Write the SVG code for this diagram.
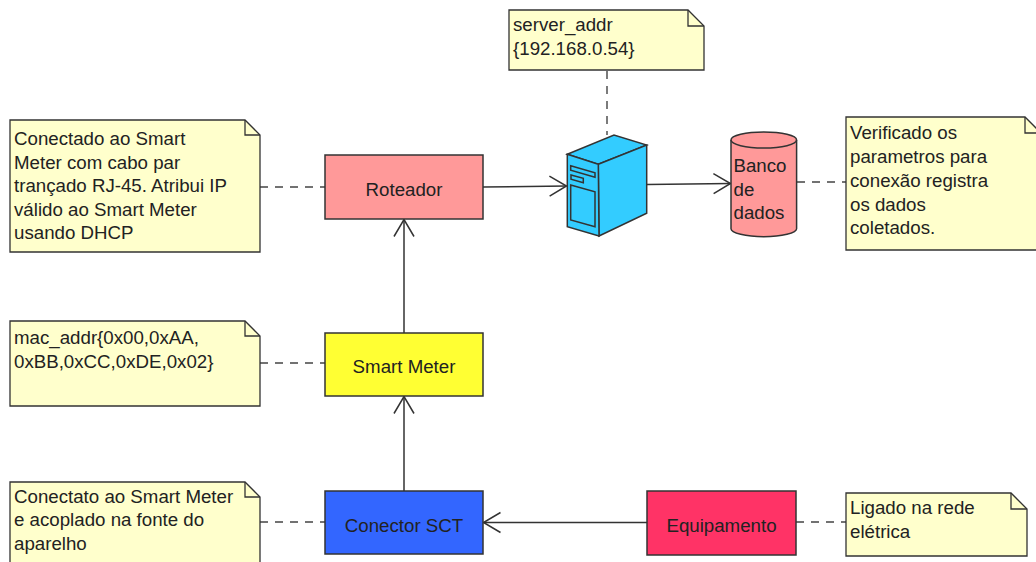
<svg xmlns="http://www.w3.org/2000/svg" width="1036" height="562" viewBox="0 0 1036 562">
<style>
  text { font-family: "Liberation Sans", Arial, sans-serif; font-size: 18.7px; fill: #222; }
  .c { text-anchor: middle; }
  .box { stroke: #333; stroke-width: 1.5; }
  .note { fill: #ffffcc; stroke: #333; stroke-width: 1.3; }
  .fold { fill: none; stroke: #333; stroke-width: 1.3; }
  .conn { fill: none; stroke: #333; stroke-width: 1.5; }
  .dash { fill: none; stroke: #444; stroke-width: 1.4; stroke-dasharray: 8 7; }
</style>
<defs>
  <marker id="open" viewBox="-19 -12 21 24" refX="0" refY="0" markerWidth="21" markerHeight="24" markerUnits="userSpaceOnUse" orient="auto">
    <path d="M-17,-10 L0,0 L-17,10" fill="none" stroke="#333" stroke-width="1.5"/>
  </marker>
</defs>
<rect width="1036" height="562" fill="#ffffff"/>

<g id="connectors">
  <path class="conn" d="M483,187 L566.5,186" marker-end="url(#open)"/>
  <path class="conn" d="M647,184.5 L730.5,183.5" marker-end="url(#open)"/>
  <path class="conn" d="M404,333 L404,219.5" marker-end="url(#open)"/>
  <path class="conn" d="M404,491 L404,396.5" marker-end="url(#open)"/>
  <path class="conn" d="M647,522.5 L483.5,522.5" marker-end="url(#open)"/>
  <path class="dash" d="M260,187 L325,187"/>
  <path class="dash" d="M607,71 L607,135"/>
  <path class="dash" d="M797,182 L846,182"/>
  <path class="dash" d="M260,363 L325,363"/>
  <path class="dash" d="M260,522 L325,522"/>
  <path class="dash" d="M796,522 L846,522"/>
</g>

<g id="note-server">
  <path class="note" d="M509,10 L688,10 L704,26 L704,70 L509,70 Z"/>
  <path class="fold" d="M688,10 L688,26 L704,26"/>
  <text x="513" y="31">server_addr</text>
  <text x="513" y="55">{192.168.0.54}</text>
</g>

<g id="note-roteador">
  <path class="note" d="M10,120 L245,120 L260,135 L260,252 L10,252 Z"/>
  <path class="fold" d="M245,120 L245,135 L260,135"/>
  <text x="14" y="145">Conectado ao Smart</text>
  <text x="14" y="168.5">Meter com cabo par</text>
  <text x="14" y="192">trançado RJ-45. Atribui IP</text>
  <text x="14" y="215.5">válido ao Smart Meter</text>
  <text x="14" y="239">usando DHCP</text>
</g>

<g id="note-mac">
  <path class="note" d="M10,321 L245,321 L260,336 L260,406 L10,406 Z"/>
  <path class="fold" d="M245,321 L245,336 L260,336"/>
  <text x="14" y="344">mac_addr{0x00,0xAA,</text>
  <text x="14" y="368">0xBB,0xCC,0xDE,0x02}</text>
</g>

<g id="note-sct">
  <path class="note" d="M10,482 L245,482 L260,497 L260,572 L10,572 Z"/>
  <path class="fold" d="M245,482 L245,497 L260,497"/>
  <text x="14" y="502.5">Conectato ao Smart Meter</text>
  <text x="14" y="526">e acoplado na fonte do</text>
  <text x="14" y="550">aparelho</text>
</g>

<g id="note-db">
  <path class="note" d="M846,117 L1025,117 L1041,133 L1041,250 L846,250 Z"/>
  <path class="fold" d="M1025,117 L1025,133 L1041,133"/>
  <text x="850" y="139">Verificado os</text>
  <text x="850" y="162.5">parametros para</text>
  <text x="850" y="186.5">conexão registra</text>
  <text x="850" y="210.5">os dados</text>
  <text x="850" y="234">coletados.</text>
</g>

<g id="note-equip">
  <path class="note" d="M846,493 L1011,493 L1027,509 L1027,556 L846,556 Z"/>
  <path class="fold" d="M1011,493 L1011,509 L1027,509"/>
  <text x="850" y="514">Ligado na rede</text>
  <text x="850" y="538">elétrica</text>
</g>

<g id="roteador">
  <rect class="box" x="325" y="155" width="158" height="64" fill="#ff9999"/>
  <text class="c" x="404" y="196">Roteador</text>
</g>

<g id="smart-meter">
  <rect class="box" x="325" y="333" width="158" height="63" fill="#ffff33"/>
  <text class="c" x="404" y="373">Smart Meter</text>
</g>

<g id="conector-sct">
  <rect class="box" x="325" y="491" width="158" height="63" fill="#3366ff"/>
  <text class="c" x="404" y="532">Conector SCT</text>
</g>

<g id="equipamento">
  <rect class="box" x="647" y="491" width="149" height="64" fill="#ff3366"/>
  <text class="c" x="721.5" y="532">Equipamento</text>
</g>

<g id="server">
  <polygon class="box" fill="#33ccff" points="567.3,154.3 614,135 646.7,145 598.3,164.3"/>
  <polygon class="box" fill="#33ccff" points="598.3,164.3 646.7,145 646.7,213.3 599,236"/>
  <polygon class="box" fill="#33ccff" points="567.3,154.3 598.3,164.3 599,236 567.3,226.7"/>
  <polygon class="box" fill="#33ccff" points="570.7,165.7 595,172.7 595,177.3 570.7,170.3"/>
  <polygon class="box" fill="#33ccff" points="571,175 583.3,178.3 583.3,182.7 571,179.3"/>
  <polygon class="box" fill="#33ccff" points="570.7,185 595,191.7 595,226.7 570.7,220"/>
</g>

<g id="banco-de-dados">
  <path class="box" fill="#ff9999" d="M731,140 A32.8,8 0 0 1 796.6,140 L796.6,228.7 A32.8,8 0 0 1 731,228.7 Z"/>
  <path class="box" fill="none" d="M731,140 A32.8,8 0 0 0 796.6,140"/>
  <text x="733.5" y="171.7">Banco</text>
  <text x="733.5" y="195.7">de</text>
  <text x="733.5" y="219">dados</text>
</g>
</svg>
